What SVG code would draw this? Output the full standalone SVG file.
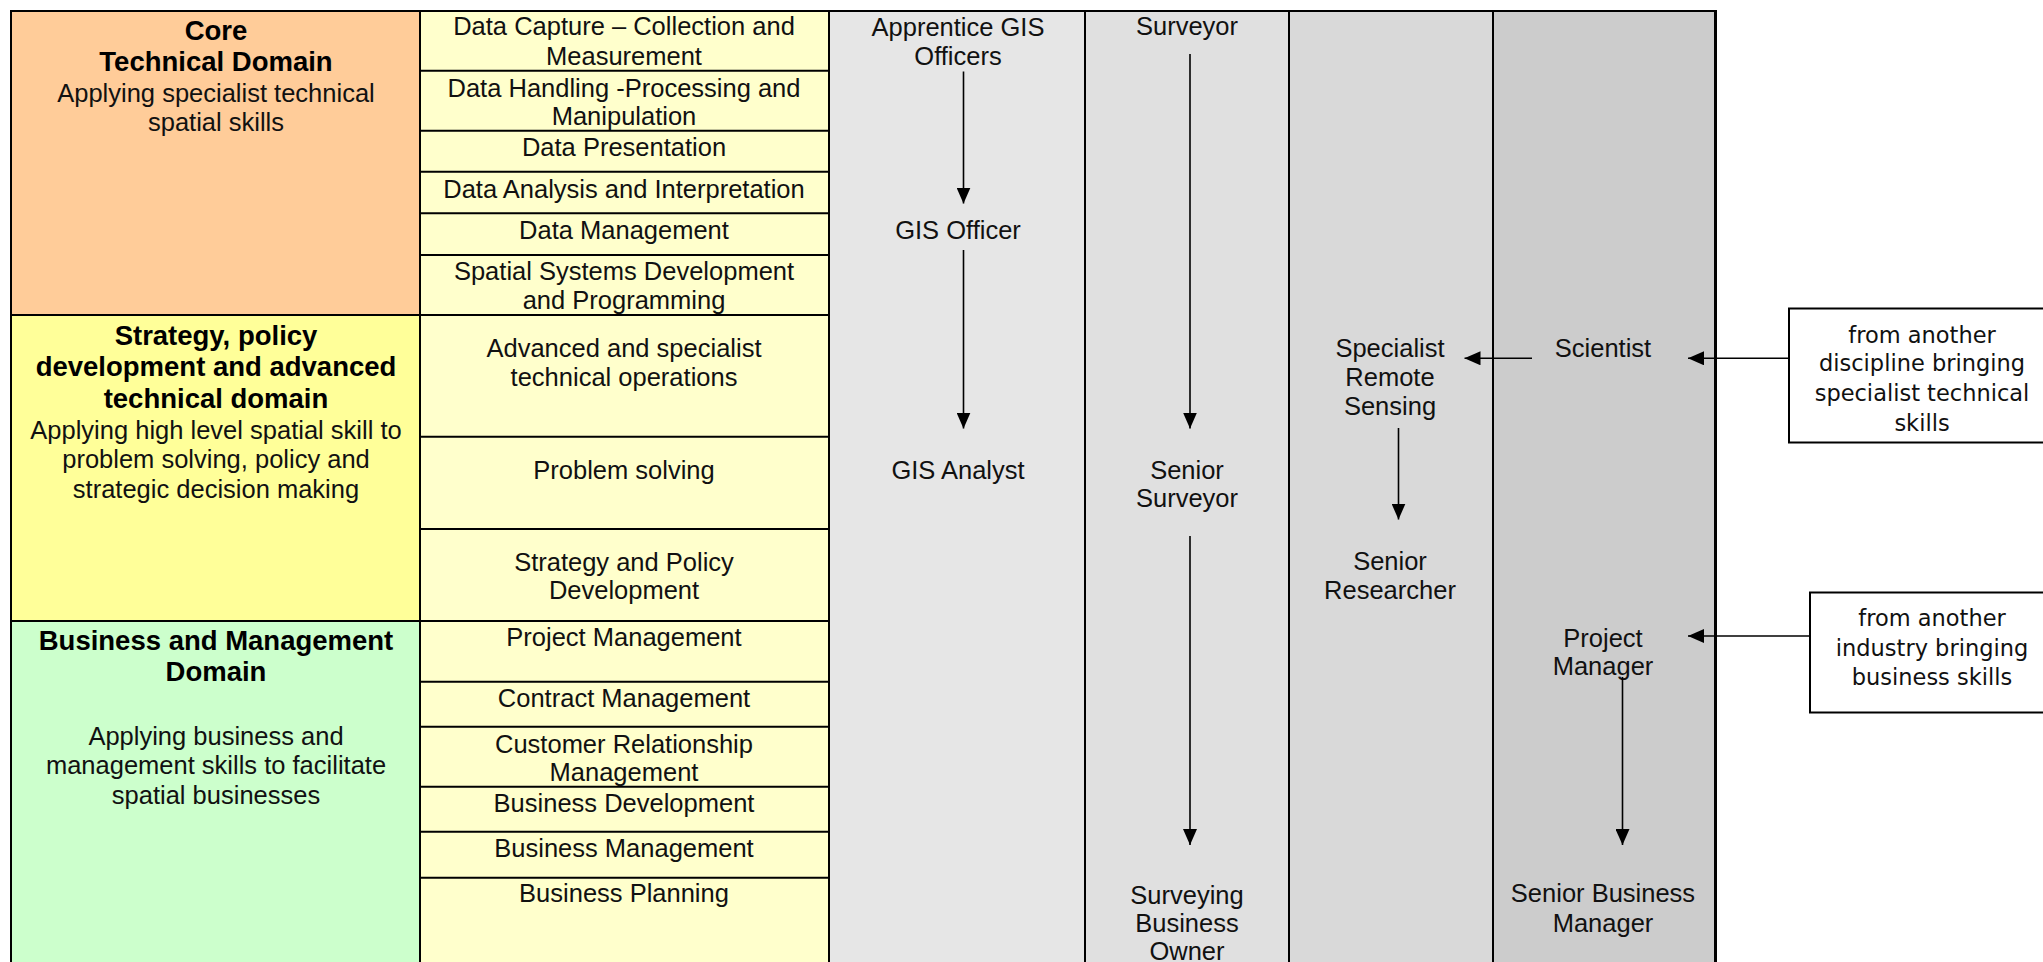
<svg xmlns="http://www.w3.org/2000/svg" width="2043" height="962" viewBox="0 0 2043 962">
  <style>
    .t { font-family: "Liberation Sans", Arial, sans-serif; font-size: 25.5px; fill: #111; text-anchor: middle; }
    .b { font-family: "Liberation Sans", Arial, sans-serif; font-size: 27.5px; font-weight: bold; fill: #000; text-anchor: middle; }
    .n { font-family: "DejaVu Sans", sans-serif; font-size: 22.5px; fill: #111; text-anchor: middle; }
    .grid { stroke: #000; stroke-width: 2; fill: none; }
    .conn { stroke: #000; stroke-width: 1.6; fill: none; }
    .box { fill: #fff; stroke: #000; stroke-width: 2; }
  </style>
  <defs>
    <marker id="head" markerWidth="16" markerHeight="14" refX="16" refY="7" orient="auto" markerUnits="userSpaceOnUse">
      <path d="M0,0 L16,7 L0,14 Z" fill="#000"/>
    </marker>
  </defs>

  <rect width="2043" height="962" fill="#fff"/>

  <!-- background bands -->
  <g id="bands">
    <rect x="12" y="11" width="408" height="304" fill="#FFCC99"/>
    <rect x="12" y="315" width="408" height="306" fill="#FFFF99"/>
    <rect x="12" y="621" width="408" height="345" fill="#CCFFCC"/>
    <rect x="420" y="11" width="409" height="955" fill="#FFFFCC"/>
    <rect x="829" y="11" width="256" height="955" fill="#E6E6E6"/>
    <rect x="1085" y="11" width="204" height="955" fill="#E0E0E0"/>
    <rect x="1289" y="11" width="204" height="955" fill="#D9D9D9"/>
    <rect x="1493" y="11" width="223" height="955" fill="#CCCCCC"/>
  </g>

  <!-- table rules -->
  <g id="rules" class="grid">
    <path d="M11,11 H1716 M11,10 V966 M420,11 V966 M829,11 V966 M1085,11 V966 M1289,11 V966 M1493,11 V966"/>
    <path d="M1715.5,10 V966" stroke-width="3"/>
    <path d="M11,315 H829 M11,621 H829"/>
    <path d="M420,70.7 H829 M420,130.7 H829 M420,171.7 H829 M420,213.3 H829 M420,255 H829 M420,436.7 H829 M420,529 H829 M420,681.7 H829 M420,726.7 H829 M420,786.7 H829 M420,831.7 H829 M420,877.7 H829"/>
  </g>

  <!-- domain headings -->
  <g id="domain-core">
    <text class="b" x="216" y="39.5">Core</text>
    <text class="b" x="216" y="71">Technical Domain</text>
    <text class="t" x="216" y="102">Applying specialist technical</text>
    <text class="t" x="216" y="130.5">spatial skills</text>
  </g>
  <g id="domain-strategy">
    <text class="b" x="216" y="344.5">Strategy, policy</text>
    <text class="b" x="216" y="376">development and advanced</text>
    <text class="b" x="216" y="407.5">technical domain</text>
    <text class="t" x="216" y="438.5">Applying high level spatial skill to</text>
    <text class="t" x="216" y="467.5">problem solving, policy and</text>
    <text class="t" x="216" y="497.5">strategic decision making</text>
  </g>
  <g id="domain-business">
    <text class="b" x="216" y="649.5">Business and Management</text>
    <text class="b" x="216" y="681">Domain</text>
    <text class="t" x="216" y="744.5">Applying business and</text>
    <text class="t" x="216" y="774">management skills to facilitate</text>
    <text class="t" x="216" y="803.5">spatial businesses</text>
  </g>

  <!-- skill areas -->
  <g id="skills">
    <text class="t" x="624" y="35">Data Capture – Collection and</text>
    <text class="t" x="624" y="65">Measurement</text>
    <text class="t" x="624" y="96.5">Data Handling -Processing and</text>
    <text class="t" x="624" y="125">Manipulation</text>
    <text class="t" x="624" y="156">Data Presentation</text>
    <text class="t" x="624" y="197.5">Data Analysis and Interpretation</text>
    <text class="t" x="624" y="238.5">Data Management</text>
    <text class="t" x="624" y="280">Spatial Systems Development</text>
    <text class="t" x="624" y="308.5">and Programming</text>
    <text class="t" x="624" y="356.5">Advanced and specialist</text>
    <text class="t" x="624" y="386">technical operations</text>
    <text class="t" x="624" y="478.5">Problem solving</text>
    <text class="t" x="624" y="570.5">Strategy and Policy</text>
    <text class="t" x="624" y="599">Development</text>
    <text class="t" x="624" y="646">Project Management</text>
    <text class="t" x="624" y="706.5">Contract Management</text>
    <text class="t" x="624" y="752.5">Customer Relationship</text>
    <text class="t" x="624" y="781">Management</text>
    <text class="t" x="624" y="811.5">Business Development</text>
    <text class="t" x="624" y="856.5">Business Management</text>
    <text class="t" x="624" y="901.5">Business Planning</text>
  </g>

  <!-- roles -->
  <g id="apprentice-gis"><text class="t" x="958" y="36">Apprentice GIS</text><text class="t" x="958" y="65">Officers</text></g>
  <g id="gis-officer"><text class="t" x="958" y="238.5">GIS Officer</text></g>
  <g id="gis-analyst"><text class="t" x="958" y="478.5">GIS Analyst</text></g>
  <g id="surveyor"><text class="t" x="1187" y="35">Surveyor</text></g>
  <g id="senior-surveyor"><text class="t" x="1187" y="478.5">Senior</text><text class="t" x="1187" y="507">Surveyor</text></g>
  <g id="surveying-business-owner"><text class="t" x="1187" y="903.5">Surveying</text><text class="t" x="1187" y="932">Business</text><text class="t" x="1187" y="960">Owner</text></g>
  <g id="specialist-remote-sensing"><text class="t" x="1390" y="356.5">Specialist</text><text class="t" x="1390" y="386">Remote</text><text class="t" x="1390" y="415">Sensing</text></g>
  <g id="senior-researcher"><text class="t" x="1390" y="570">Senior</text><text class="t" x="1390" y="598.5">Researcher</text></g>
  <g id="scientist"><text class="t" x="1603" y="356.5">Scientist</text></g>
  <g id="project-manager"><text class="t" x="1603" y="647">Project</text><text class="t" x="1603" y="675">Manager</text></g>
  <g id="senior-business-manager"><text class="t" x="1603" y="902">Senior Business</text><text class="t" x="1603" y="932">Manager</text></g>

  <!-- external entry boxes -->
  <g id="from-discipline">
    <rect class="box" x="1789" y="308.5" width="260" height="134"/>
    <text class="n" x="1922" y="343">from another</text>
    <text class="n" x="1922" y="371">discipline bringing</text>
    <text class="n" x="1922" y="401">specialist technical</text>
    <text class="n" x="1922" y="430.5">skills</text>
  </g>
  <g id="from-industry">
    <rect class="box" x="1810" y="592.5" width="240" height="120"/>
    <text class="n" x="1932" y="626">from another</text>
    <text class="n" x="1932" y="656">industry bringing</text>
    <text class="n" x="1932" y="685">business skills</text>
  </g>

  <!-- career path connectors -->
  <g id="connectors" class="conn">
    <line x1="963.5" y1="71.5" x2="963.5" y2="203.5" marker-end="url(#head)"/>
    <line x1="963.5" y1="250" x2="963.5" y2="428.5" marker-end="url(#head)"/>
    <line x1="1190" y1="54" x2="1190" y2="428.5" marker-end="url(#head)"/>
    <line x1="1190" y1="536" x2="1190" y2="845" marker-end="url(#head)"/>
    <line x1="1398.5" y1="428" x2="1398.5" y2="519.5" marker-end="url(#head)"/>
    <line x1="1622.5" y1="677" x2="1622.5" y2="845" marker-end="url(#head)"/>
    <line x1="1532" y1="358.3" x2="1464.5" y2="358.3" marker-end="url(#head)"/>
    <line x1="1789" y1="358.3" x2="1688" y2="358.3" marker-end="url(#head)"/>
    <line x1="1810" y1="636" x2="1688" y2="636" marker-end="url(#head)"/>
  </g>
</svg>
